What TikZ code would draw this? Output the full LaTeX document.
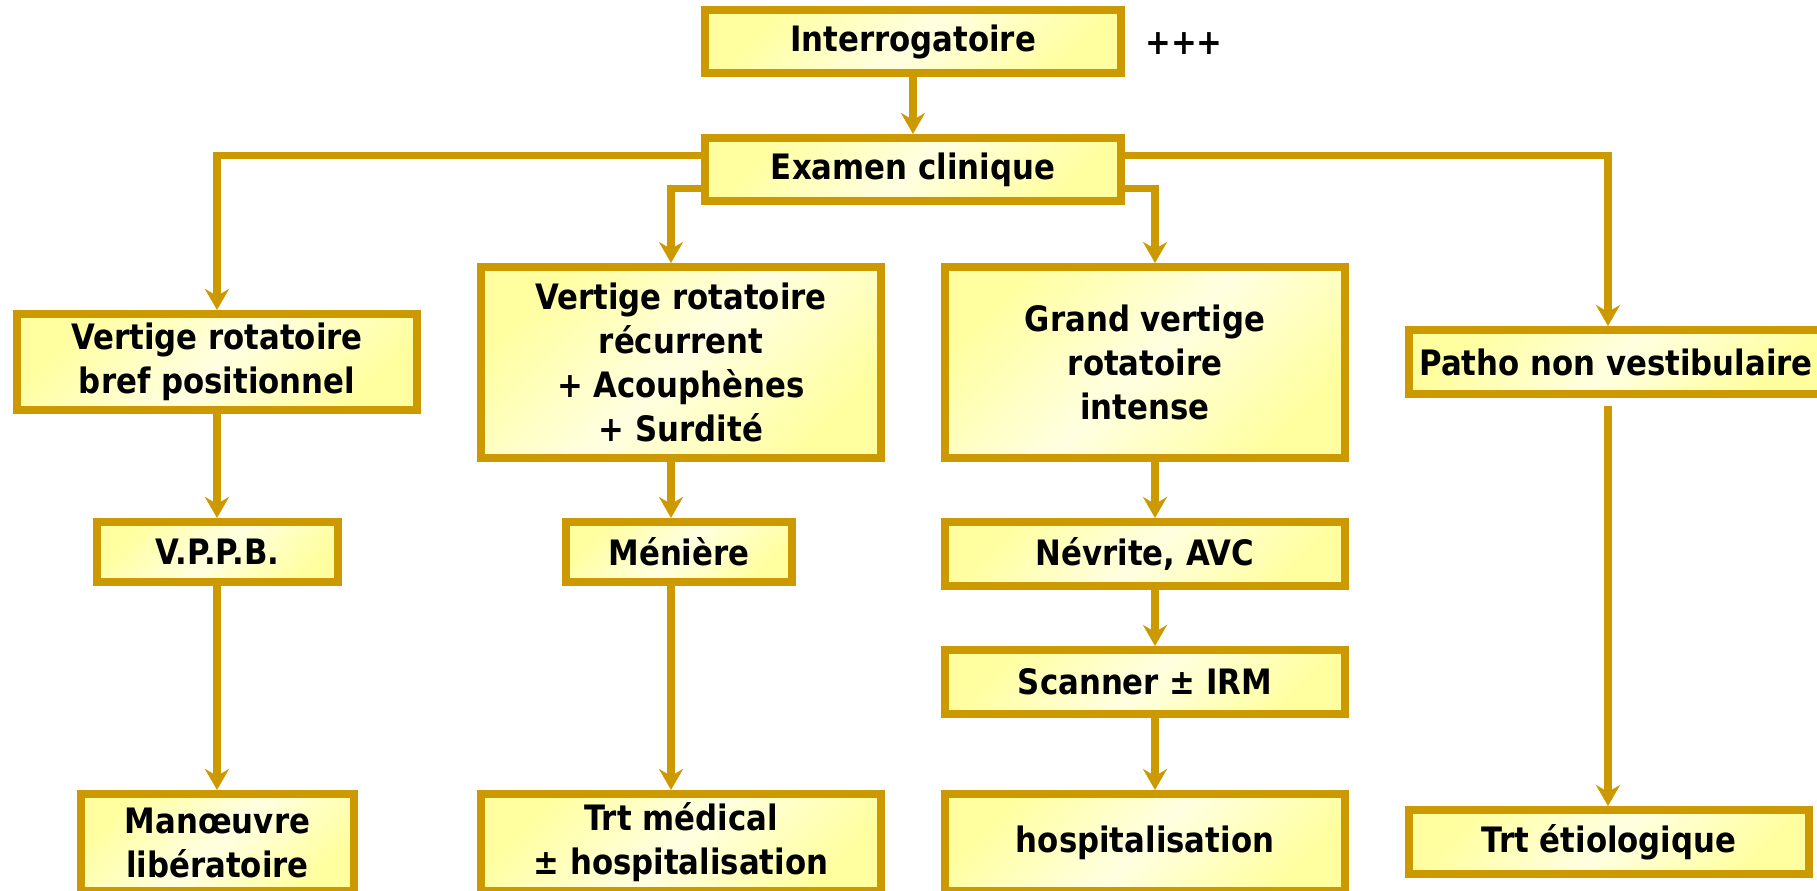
\documentclass[tikz,border=0pt]{standalone}
\usepackage{fontspec}
\setmainfont[FakeStretch=0.88]{DejaVu Sans}
\usetikzlibrary{arrows.meta,calc}
\definecolor{bordercol}{RGB}{204,153,0}
\definecolor{fillA}{RGB}{255,255,160}
\definecolor{fillB}{RGB}{255,255,225}
\tikzset{
  txt/.style={font=\fontsize{35}{44}\selectfont\bfseries},
  box/.style={draw=bordercol, line width=8pt, rectangle, inner sep=0pt,
    left color=fillA, right color=fillA, middle color=fillB, shading angle=45,
    align=center, txt},
  conn/.style={draw=bordercol, line width=7.5pt, -{Stealth[length=21pt,width=24pt,inset=7pt]}},
}
\begin{document}
\begin{tikzpicture}[x=1pt,y=-1pt]
\useasboundingbox (0,0) rectangle (1817,891);
\fill[white] (0,0) rectangle (1817,891);
% column coordinates
\coordinate (c1) at (217,0);
\coordinate (c2) at (671,0);
\coordinate (c3) at (1155,0);
\coordinate (c4) at (1608,0);
% nodes
\node[box, minimum width=416pt, minimum height=63pt] (int) at (913,41.5) {Interrogatoire};
\node[txt] (plus) at (1184,44) {+++};
\node[box, minimum width=416pt, minimum height=63pt] (ex) at (913,169.5) {Examen clinique};
\node[box, minimum width=400pt, minimum height=96pt] (v1) at (217,362) {Vertige rotatoire\\bref positionnel};
\node[box, minimum width=400pt, minimum height=191pt] (v2) at (681,362.5) {Vertige rotatoire\\récurrent\\+ Acouphènes\\+ Surdité};
\node[box, minimum width=400pt, minimum height=191pt] (v3) at (1145,362.5) {Grand vertige\\rotatoire\\intense};
\node[box, minimum width=414pt, minimum height=64pt] (v4) at (1616,362) {Patho non vestibulaire};
\node[box, minimum width=241pt, minimum height=60pt] (vppb) at (217.5,552) {V.P.P.B.};
\node[box, minimum width=226pt, minimum height=60pt] (men) at (679,552) {Ménière};
\node[box, minimum width=400pt, minimum height=64pt] (nev) at (1145,554) {Névrite, AVC};
\node[box, minimum width=400pt, minimum height=64pt] (scan) at (1145,682) {Scanner ± IRM};
\node[box, minimum width=273pt, minimum height=97pt] (man) at (217.5,842.5) {Manœuvre\\libératoire};
\node[box, minimum width=400pt, minimum height=97pt] (trt) at (681,842.5) {Trt médical\\± hospitalisation};
\node[box, minimum width=400pt, minimum height=97pt] (hosp) at (1145,842.5) {hospitalisation};
\node[box, minimum width=400pt, minimum height=64pt] (etio) at (1609,842) {Trt étiologique};
% connectors
\draw[conn] (int.south -| ex.north) -- (ex.north);
\draw[conn] ([yshift=14pt]ex.west) -| (v1.north -| c1);
\draw[conn] ([yshift=-19pt]ex.west) -| (v2.north -| c2);
\draw[conn] ([yshift=-19pt]ex.east) -| (v3.north -| c3);
\draw[conn] ([yshift=14pt]ex.east) -| (v4.north -| c4);
\draw[conn] (v1.south -| c1) -- (vppb.north -| c1);
\draw[conn] (vppb.south -| c1) -- (man.north -| c1);
\draw[conn] (v2.south -| c2) -- (men.north -| c2);
\draw[conn] (men.south -| c2) -- (trt.north -| c2);
\draw[conn] (v3.south -| c3) -- (nev.north -| c3);
\draw[conn] (nev.south -| c3) -- (scan.north -| c3);
\draw[conn] (scan.south -| c3) -- (hosp.north -| c3);
\draw[conn, shorten <=8pt] (v4.south -| c4) -- (etio.north -| c4);
\end{tikzpicture}
\end{document}
